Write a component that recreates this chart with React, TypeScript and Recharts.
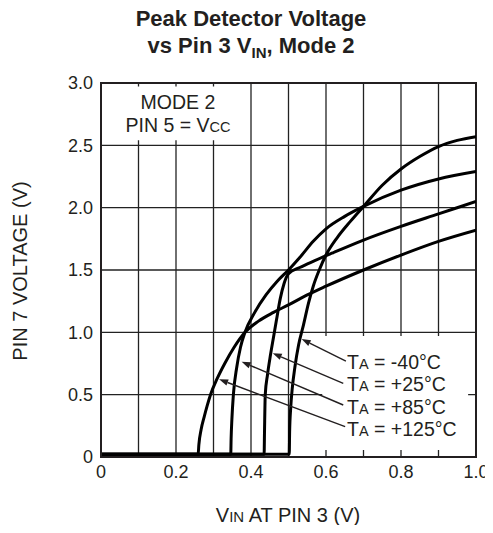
import React from 'react';
import { LineChart, Line, XAxis, YAxis, CartesianGrid, ReferenceArea, ReferenceLine } from 'recharts';

// VIN at pin 3 (V) vs pin 7 voltage (V)
const vinM40 = [0, 0.502, 0.503, 0.506, 0.51, 0.517, 0.527, 0.54, 0.553, 0.566, 0.582, 0.6, 0.63, 0.665, 0.7, 0.75, 0.8, 0.85, 0.9, 0.95, 1.0];
const pinM40 = [0.022, 0.022, 0.2, 0.4, 0.55, 0.72, 0.9, 1.06, 1.23, 1.37, 1.5, 1.62, 1.76, 1.89, 2.01, 2.18, 2.31, 2.41, 2.49, 2.54, 2.57];

const vinP25 = [0, 0.435, 0.436, 0.438, 0.444, 0.452, 0.46, 0.468, 0.478, 0.488, 0.5, 0.53, 0.57, 0.62, 0.7, 0.8, 0.9, 1.0];
const pinP25 = [0.022, 0.022, 0.2, 0.5, 0.66, 0.82, 0.96, 1.1, 1.27, 1.39, 1.47, 1.52, 1.575, 1.64, 1.74, 1.85, 1.95, 2.05];

const vinP85 = [0, 0.346, 0.347, 0.349, 0.353, 0.362, 0.372, 0.384, 0.41, 0.44, 0.47, 0.5, 0.53, 0.566, 0.6, 0.65, 0.7, 0.8, 0.9, 1.0];
const pinP85 = [0.022, 0.022, 0.15, 0.3, 0.5, 0.72, 0.88, 1.0, 1.16, 1.3, 1.41, 1.5, 1.6, 1.73, 1.83, 1.93, 2.01, 2.14, 2.23, 2.29];

const vinP125 = [0, 0.259, 0.261, 0.267, 0.275, 0.283, 0.292, 0.31, 0.33, 0.355, 0.384, 0.42, 0.46, 0.5, 0.55, 0.6, 0.7, 0.8, 0.9, 1.0];
const pinP125 = [0.022, 0.022, 0.1, 0.22, 0.32, 0.41, 0.5, 0.63, 0.75, 0.88, 1.0, 1.09, 1.16, 1.22, 1.3, 1.37, 1.5, 1.62, 1.73, 1.82];

const vinTicks = [0, 0.1, 0.2, 0.3, 0.4, 0.5, 0.6, 0.7, 0.8, 0.9, 1.0];
const pinTicks = [0, 0.5, 1.0, 1.5, 2.0, 2.5, 3.0];

const tempLabels = ['-40°C', '+25°C', '+85°C', '+125°C'];
// leader arrows: tip on the curve, tail next to the label
const tipVin = [0.535, 0.458, 0.375, 0.315];
const tipPin = [0.946, 0.832, 0.764, 0.623];
const tailVin = [0.653, 0.646, 0.646, 0.651];
const tailPin = [0.77, 0.591, 0.417, 0.243];

const zip = (xs: number[], ys: number[]) => xs.map((x, i) => ({ vin: x, v: ys[i] }));
const curves = [zip(vinM40, pinM40), zip(vinP25, pinP25), zip(vinP85, pinP85), zip(vinP125, pinP125)];

const FONT = '"Liberation Sans", Arial, Helvetica, sans-serif';
const INK = '#231f20';

const Leader = (props: any) => {
  const { x1, y1, x2, y2 } = props;
  // arrowhead goes on the left end (the curve side)
  const [tx, ty, ox, oy] = x1 < x2 ? [x1, y1, x2, y2] : [x2, y2, x1, y1];
  const a = Math.atan2(oy - ty, ox - tx);
  const len = 9;
  const w = 3.2;
  const bx = tx + len * Math.cos(a);
  const by = ty + len * Math.sin(a);
  const px = -Math.sin(a) * w;
  const py = Math.cos(a) * w;
  return (
    <g>
      <line x1={bx} y1={by} x2={ox} y2={oy} stroke={INK} strokeWidth={1.4} />
      <polygon points={`${tx},${ty} ${bx + px},${by + py} ${bx - px},${by - py}`} fill={INK} />
    </g>
  );
};

const fmtVin = (v: number) => {
  const t = Math.round(v * 10);
  if (t % 2 === 1) return '';
  return t === 0 ? '0' : v.toFixed(1);
};
const fmtPin = (v: number) => (v === 0 ? '0' : v.toFixed(1));

export default function App() {
  return (
    <div style={{ position: 'relative', width: 493, height: 533, margin: -8, background: '#fff' }}>
      <LineChart
        width={493}
        height={533}
        margin={{ top: 83, right: 17, bottom: 46, left: 61 }}
        style={{ fontFamily: FONT }}
      >
        <CartesianGrid stroke="#222" strokeWidth={1.3} />
        <ReferenceArea x1={0.004} x2={0.362} y1={2.54} y2={2.972} fill="#fff" fillOpacity={1} stroke="none" />
        <ReferenceArea x1={0.59} x2={0.979} y1={0.056} y2={0.97} fill="#fff" fillOpacity={1} stroke="none" />
        <ReferenceArea x1={0} x2={1} y1={0} y2={3} fill="none" stroke={INK} strokeWidth={2} />
        <XAxis
          dataKey="vin"
          type="number"
          domain={[0, 1]}
          ticks={vinTicks}
          tickFormatter={fmtVin}
          allowDataOverflow
          interval={0}
          height={30}
          tickLine={false}
          axisLine={{ stroke: INK, strokeWidth: 2 }}
          tickSize={8}
          tickMargin={0}
          tick={{ fill: INK, fontSize: 18, fontFamily: FONT }}
        />
        <YAxis
          type="number"
          domain={[0, 3]}
          ticks={pinTicks}
          tickFormatter={fmtPin}
          allowDataOverflow
          interval={0}
          width={40}
          tickLine={false}
          axisLine={{ stroke: INK, strokeWidth: 2 }}
          tick={{ fill: INK, fontSize: 18, fontFamily: FONT }}
        />
        {curves.map((d, i) => (
          <Line
            key={i}
            data={d}
            dataKey="v"
            type="monotone"
            stroke="#000"
            strokeWidth={3}
            dot={false}
            activeDot={false}
            isAnimationActive={false}
          />
        ))}
        {tempLabels.map((t, i) => (
          <ReferenceLine
            key={t}
            segment={[{ x: tipVin[i], y: tipPin[i] }, { x: tailVin[i], y: tailPin[i] }]}
            shape={<Leader />}
          />
        ))}
      </LineChart>
      <svg
        width={493}
        height={533}
        style={{ position: 'absolute', left: 0, top: 0, pointerEvents: 'none', fontFamily: FONT }}
      >
        <text x={251} y={26} textAnchor="middle" fontSize={22} fontWeight="bold" fill={INK}>
          Peak Detector Voltage
        </text>
        <text x={251} y={53} textAnchor="middle" fontSize={22} fontWeight="bold" fill={INK}>
          vs Pin 3 V<tspan fontSize={15} dy={5}>IN</tspan>
          <tspan dy={-5}>, Mode 2</tspan>
        </text>
        <text x={178} y={109} textAnchor="middle" fontSize={19.5} fill={INK}>MODE 2</text>
        <text x={178} y={132} textAnchor="middle" fontSize={19.5} fill={INK}>
          PIN 5 = V<tspan fontSize={14.5}>CC</tspan>
        </text>
        {tempLabels.map((t, i) => (
          <text key={t} x={347} y={369 + i * 22.3} fontSize={19.5} fill={INK}>
            T<tspan fontSize={14.5}>A</tspan> = {t}
          </text>
        ))}
        <text transform="rotate(-90)" x={-271} y={27} textAnchor="middle" fontSize={20} fill={INK}>
          PIN 7 VOLTAGE (V)
        </text>
        <text x={288} y={522} textAnchor="middle" fontSize={20} fill={INK}>
          V<tspan fontSize={15}>IN</tspan> AT PIN 3 (V)
        </text>
      </svg>
    </div>
  );
}
